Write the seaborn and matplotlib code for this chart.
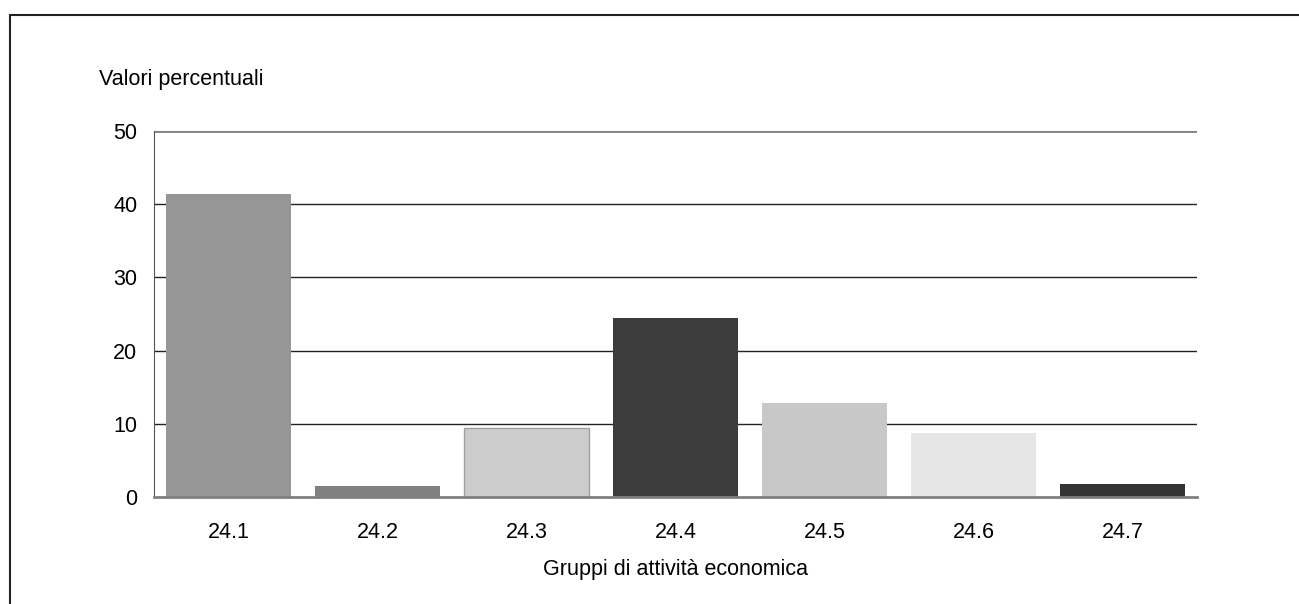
import matplotlib
matplotlib.use("Agg")
import matplotlib.pyplot as plt
import seaborn as sns
import pandas as pd
from matplotlib.patches import Rectangle

# data
gruppi = ["24.1", "24.2", "24.3", "24.4", "24.5", "24.6", "24.7"]
valori = [41.4, 1.5, 9.4, 24.5, 12.8, 8.7, 1.8]
colori = ["#969696", "#808080", "#cccccc", "#3c3c3c", "#c8c8c8", "#e6e6e6", "#333333"]

df = pd.DataFrame({"gruppo": gruppi, "valore": valori})

sns.set_style("white")
plt.rcParams["font.family"] = ["Liberation Sans", "DejaVu Sans"]
plt.rcParams["text.color"] = "black"
plt.rcParams["xtick.color"] = "black"
plt.rcParams["ytick.color"] = "black"

fs = 15.5

fig = plt.figure(figsize=(12.99, 6.04), dpi=100)
ax = fig.add_axes([154/1299, 1 - 497/604, (1197-154)/1299, (497-131)/604])

sns.barplot(data=df, x="gruppo", y="valore", hue="gruppo", palette=colori,
            legend=False, width=0.84, ax=ax, zorder=3, saturation=1,
            linewidth=0, edgecolor="none")
ax.patches[2].set_edgecolor("#a0a0a0")
ax.patches[2].set_linewidth(1)

ax.set_ylim(0, 50)
ax.set_xlim(-0.5, 6.5)
ax.set_yticks([0, 10, 20, 30, 40, 50])
for y in [10, 20, 30, 40]:
    ax.axhline(y, color="#222222", lw=1, zorder=1)
ax.axhline(50, color="#808080", lw=2, zorder=1)

# ticks at category boundaries
ax.set_xticks([i - 0.5 for i in range(8)], minor=False)
ax.set_xticklabels([])
ax.set_xticks(range(7), minor=True)
ax.set_xticklabels(gruppi, minor=True, fontsize=fs)
ax.tick_params(axis="x", which="major", direction="out", length=7, width=1, color="#555555")
ax.tick_params(axis="x", which="minor", length=0, pad=18)
ax.tick_params(axis="y", direction="out", length=7, width=1, color="#555555",
               labelsize=fs, pad=5)

for s in ["top", "right"]:
    ax.spines[s].set_visible(False)
ax.spines["left"].set_color("#555555")
ax.spines["bottom"].set_color("#808080")
ax.spines["bottom"].set_linewidth(2)
ax.spines["bottom"].set_zorder(4)

ax.set_xlabel("")
ax.set_ylabel("")
fig.text(99/1299, 1 - 80/604, "Valori percentuali", fontsize=fs, va="center", ha="left")
fig.text((154+1197)/2/1299, 1 - 569/604, "Gruppi di attività economica", fontsize=fs,
         va="center", ha="center")

# outer frame (runs off the right and bottom edges)
fig.patches.append(Rectangle((10/1299, -0.05), 1.0, 1 - 15/604 + 0.05,
                             transform=fig.transFigure, fill=False,
                             edgecolor="#222222", lw=1.5))

fig.savefig("out.png", dpi=100)
